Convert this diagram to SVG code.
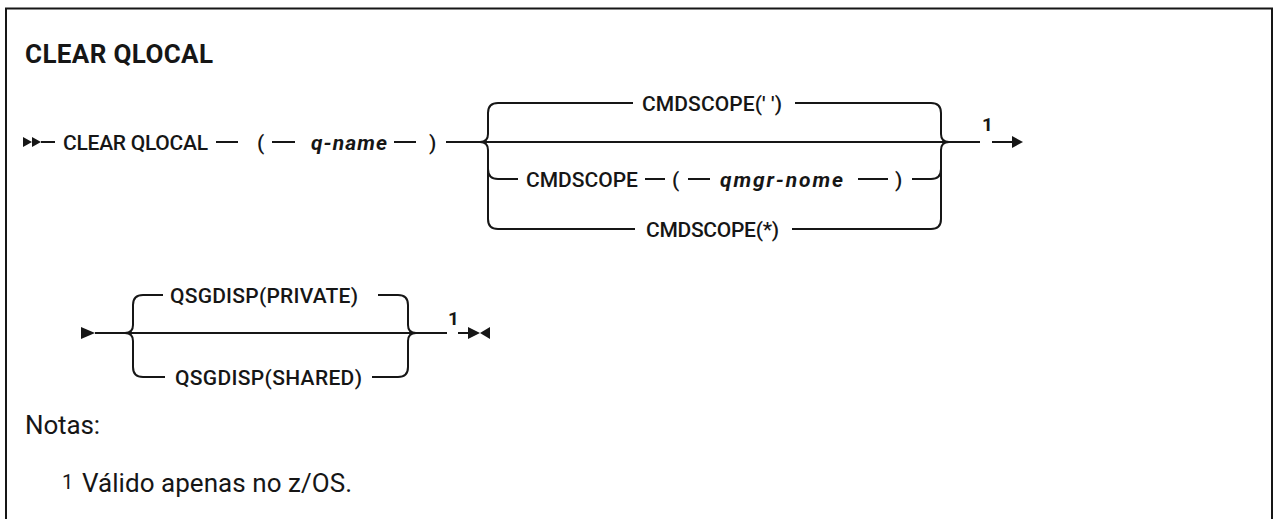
<svg xmlns="http://www.w3.org/2000/svg" width="1273" height="519" viewBox="0 0 1273 519">
<style>
.t{font-family:Roboto,"Liberation Sans",sans-serif;font-size:21px;font-weight:500;fill:#161616}
.v{font-style:italic;font-weight:bold}
.n{font-family:Roboto,"Liberation Sans",sans-serif;font-size:19px;font-weight:bold;fill:#161616}
.note{font-family:Roboto,"Liberation Sans",sans-serif;font-size:26px;fill:#161616}
.l{fill:none;stroke:#161616;stroke-width:2}
.a{fill:#161616}
</style>
<rect x="0" y="0" width="1273" height="519" fill="#ffffff"/>
<path class="l" d="M6,530 V8.5 H1272 V530"/>
<text id="title" x="25" y="63" style="font-family:Roboto,'Liberation Sans',sans-serif;font-size:26px;font-weight:bold;fill:#161616" textLength="188">CLEAR QLOCAL</text>
<g id="connectors">
<polygon class="a" points="23,137 32,142 23,147"/>
<polygon class="a" points="32,137 41,142 32,147"/>
<path class="l" d="M41,142 H55 M216,142 H238 M272,142 H295 M394,142 H416 M446,142 H980 M992,142 H1012"/>
<polygon class="a" points="1012,136 1023,142 1012,148"/>
<path class="l" d="M498,103 Q488,103 488,113 V134 Q488,142 480,142 Q488,142 488,150 V219 Q488,229 498,229 M488,169 Q488,179 498,179"/>
<path class="l" d="M931,103 Q941,103 941,113 V134 Q941,142 949,142 Q941,142 941,150 V219 Q941,229 931,229 M931,179 Q941,179 941,169"/>
<path class="l" d="M498,103 H633 M795,103 H931"/>
<path class="l" d="M498,179 H518 M645,179 H665 M688,179 H710 M858,179 H888 M912,179 H931"/>
<path class="l" d="M498,229 H635 M792,229 H931"/>
<polygon class="a" points="81,327 95,333 81,339"/>
<path class="l" d="M95,333 H447 M458,333 H468"/>
<path class="l" d="M143,295 Q133,295 133,305 V325 Q133,333 125,333 Q133,333 133,341 V367 Q133,377 143,377"/>
<path class="l" d="M398,295 Q408,295 408,305 V325 Q408,333 416,333 Q408,333 408,341 V367 Q408,377 398,377"/>
<path class="l" d="M143,295 H163 M378,295 H398 M143,377 H165 M372,377 H398"/>
<polygon class="a" points="468,327 480,333 468,339"/>
<polygon class="a" points="490,327 480,333 490,339"/>
</g>
<g id="n-clear"><text class="t" x="63" y="149.5" textLength="145">CLEAR QLOCAL</text></g>
<g id="n-lp1"><text class="t" x="257" y="149.5">(</text></g>
<g id="n-qname"><text class="t v" x="311" y="149.5" textLength="76">q-name</text></g>
<g id="n-rp1"><text class="t" x="429" y="149.5">)</text></g>
<g id="n-cmd-blank"><text class="t" x="642" y="110.5" textLength="140">CMDSCOPE(' ')</text></g>
<g id="n-cmd"><text class="t" x="526" y="186.5">CMDSCOPE</text></g>
<g id="n-lp2"><text class="t" x="672" y="186.5">(</text></g>
<g id="n-qmgr"><text class="t v" x="720" y="186.5" textLength="123">qmgr-nome</text></g>
<g id="n-rp2"><text class="t" x="895" y="186.5">)</text></g>
<g id="n-cmd-star"><text class="t" x="646" y="236.5" textLength="133">CMDSCOPE(*)</text></g>
<g id="n-note1a"><text class="n" x="982" y="131">1</text></g>
<g id="n-private"><text class="t" x="170" y="302.5" textLength="188">QSGDISP(PRIVATE)</text></g>
<g id="n-shared"><text class="t" x="175" y="384.5" textLength="187">QSGDISP(SHARED)</text></g>
<g id="n-note1b"><text class="n" x="448" y="325">1</text></g>
<g id="notes">
<text class="note" x="25" y="434" textLength="75">Notas:</text>
<text class="note" style="font-size:20px" x="62" y="489">1</text>
<text class="note" x="82" y="492" textLength="270">Válido apenas no z/OS.</text>
</g>
</svg>
